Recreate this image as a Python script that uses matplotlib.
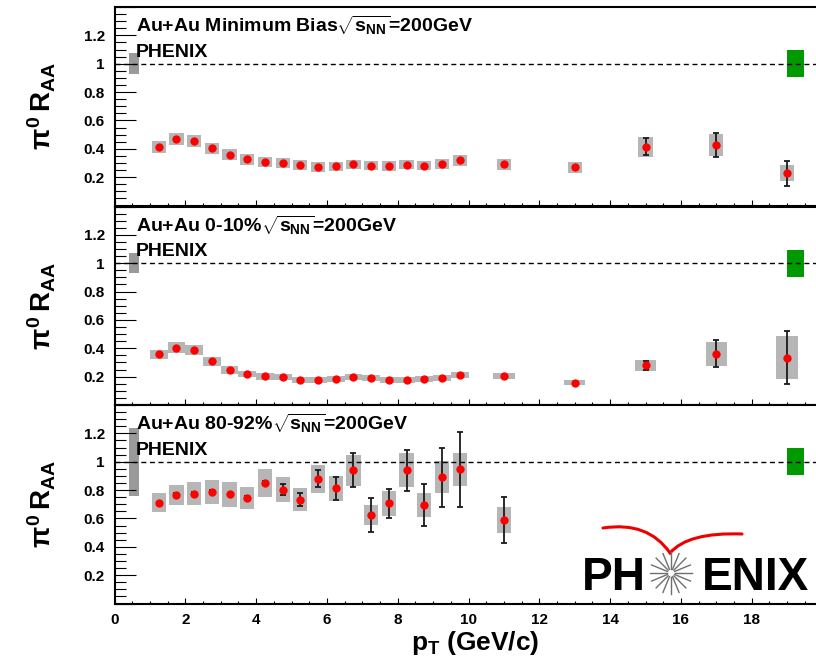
import numpy as np
import matplotlib
matplotlib.use('Agg')
from matplotlib import pyplot as plt, lines, patches
from matplotlib.path import Path
from matplotlib.ticker import MultipleLocator, FuncFormatter

plt.rcParams['font.family'] = ['Liberation Sans', 'DejaVu Sans']
plt.rcParams['font.weight'] = 'bold'
plt.rcParams['mathtext.fontset'] = 'custom'
plt.rcParams['mathtext.rm'] = 'Liberation Sans:bold'
plt.rcParams['mathtext.it'] = 'Liberation Sans:bold'
plt.rcParams['mathtext.bf'] = 'Liberation Sans:bold'

## DATA

PT = [1.25, 1.75, 2.25, 2.75, 3.25, 3.75, 4.25, 4.75, 5.25, 5.75, 6.25,
      6.75, 7.25, 7.75, 8.25, 8.75, 9.25, 9.75, 11, 13, 15, 17, 19]

# Au+Au minimum bias
raa_mb = [0.414, 0.468, 0.456, 0.403, 0.358, 0.325, 0.304, 0.297, 0.285,
          0.273, 0.276, 0.290, 0.281, 0.278, 0.288, 0.281, 0.295, 0.318,
          0.290, 0.269, 0.414, 0.426, 0.229]
stat_mb = [0.003] * 18 + [0.006, 0.008, 0.060, 0.085, 0.088]
sys_mb = [0.043, 0.040, 0.040, 0.040, 0.038, 0.036, 0.035, 0.035, 0.034,
          0.034, 0.034, 0.034, 0.034, 0.034, 0.034, 0.034, 0.035, 0.036,
          0.037, 0.037, 0.070, 0.080, 0.055]

# Au+Au 0-10%
raa_c = [0.357, 0.404, 0.387, 0.308, 0.246, 0.218, 0.202, 0.197, 0.176,
         0.176, 0.183, 0.199, 0.188, 0.179, 0.176, 0.181, 0.192, 0.211,
         0.204, 0.157, 0.279, 0.362, 0.333]
stat_c = [0.003] * 18 + [0.005, 0.006, 0.034, 0.094, 0.188]
sys_c = [0.030, 0.040, 0.036, 0.030, 0.026, 0.024, 0.023, 0.023, 0.022,
         0.022, 0.022, 0.023, 0.022, 0.022, 0.022, 0.022, 0.022, 0.024,
         0.022, 0.019, 0.040, 0.084, 0.152]

# Au+Au 80-92%
PT_P = PT[:19]
raa_p = [0.711, 0.768, 0.775, 0.787, 0.771, 0.745, 0.850, 0.804, 0.733,
         0.880, 0.812, 0.940, 0.626, 0.706, 0.940, 0.695, 0.890, 0.946, 0.590]
stat_p = [0.008, 0.008, 0.009, 0.010, 0.010, 0.012, 0.014, 0.038, 0.047,
          0.061, 0.082, 0.120, 0.120, 0.100, 0.146, 0.148, 0.210, 0.265, 0.163]
sys_p = [0.065, 0.070, 0.080, 0.085, 0.087, 0.080, 0.100, 0.090, 0.080,
         0.100, 0.090, 0.110, 0.070, 0.087, 0.118, 0.082, 0.112, 0.118, 0.094]

# normalisation uncertainties (Au+Au near pT=0.55, p+p near pT=19.25)
norm_aa = [0.074, 0.072, 0.24]
norm_pp = 0.095

TITLES = ['Au+Au Minimum Bias', 'Au+Au 0-10%', 'Au+Au 80-92%']

## FIGURE

SYS_COL = '#b6b6b6'
NORM_COL = '#9a9a9a'

W, H = 816, 668
fig = plt.figure(figsize=(W / 100, H / 100), dpi=100)

left = 114.5 / W
width = 708 / W
tops = [7, 206.5, 405]
ph = 198.5

panels = [
    (PT, raa_mb, stat_mb, sys_mb, [0.4] * 23),
    (PT, raa_c, stat_c, sys_c, [0.5] * 18 + [0.6] * 5),
    (PT_P, raa_p, stat_p, sys_p, [0.4] * 19),
]

for i, (pt, raa, stat, sys, bw) in enumerate(panels):
    ax = fig.add_axes([left, 1 - (tops[i] + ph) / H, width, ph / H])
    raa = np.array(raa)
    sys = np.array(sys)

    ax.bar(pt, 2 * sys, bottom=raa - sys, width=bw, color=SYS_COL,
           linewidth=0, zorder=1)
    ax.bar([0.55], [2 * norm_aa[i]], bottom=[1 - norm_aa[i]], width=0.28,
           color=NORM_COL, linewidth=0, zorder=1)
    ax.bar([19.24], [2 * norm_pp], bottom=[1 - norm_pp], width=0.48,
           color='#009a00', linewidth=0, zorder=1)
    ax.axhline(1, color='black', lw=1.0, dashes=(3.6, 2.6), zorder=2)
    ax.errorbar(pt, raa, yerr=stat, fmt='none', ecolor='#1a1a1a',
                elinewidth=1.3, capsize=2.5, capthick=1.3, zorder=3)
    ax.plot(pt, raa, 'o', color='red', ms=6, mew=0, zorder=4)

    ax.set_xlim(0, 20)
    ax.set_ylim(0, 1.4)
    ax.xaxis.set_major_locator(MultipleLocator(2))
    ax.xaxis.set_minor_locator(MultipleLocator(0.5))
    ax.yaxis.set_major_locator(MultipleLocator(0.2))
    ax.yaxis.set_minor_locator(MultipleLocator(0.05))
    ax.yaxis.set_major_formatter(FuncFormatter(
        lambda v, _: '' if v < 0.1 or v > 1.3 else '%g' % round(v, 1)))
    ax.xaxis.set_major_formatter(FuncFormatter(
        lambda v, _: '' if v > 19 else '%g' % v))
    ax.tick_params(axis='y', which='major', direction='in', length=15,
                   width=0.8, labelsize=11, pad=7)
    ax.tick_params(axis='y', which='minor', direction='in', length=8,
                   width=0.8)
    ax.tick_params(axis='x', which='major', direction='in', length=4.5,
                   width=0.8, labelsize=11, pad=7)
    ax.tick_params(axis='x', which='minor', direction='in', length=2.3,
                   width=0.8)
    if i < 2:
        ax.tick_params(axis='x', labelbottom=False)
    for s in ax.spines.values():
        s.set_linewidth(1.5)

    ax.text(0.6, 1.27, TITLES[i] + r'$\sqrt{s_{NN}}$' + '=200GeV',
            fontsize=14, va='center', ha='left')
    ax.text(0.6, 1.08, 'PHENIX', fontsize=14, va='center', ha='left')

    fig.text(42 / W, 1 - (tops[i] + ph / 2) / H, r'$\pi^{0}\,R_{AA}$',
             fontsize=20, rotation=90, ha='center', va='center')

fig.text(475 / W, 1 - 643 / H, r'$p_{T}$ (GeV/c)', fontsize=19,
         ha='center', va='center')

## LOGO


def fx(x):
    return x / W


def fy(y):
    return 1 - y / H


fig.text(fx(582), fy(590), 'PH', fontsize=33, weight='bold',
         ha='left', va='baseline')
fig.text(fx(809), fy(590), 'ENIX', fontsize=33, weight='bold',
         ha='right', va='baseline')

cx, cy = 671, 573
for a in np.linspace(0, 2 * np.pi, 16, endpoint=False):
    fig.add_artist(lines.Line2D(
        [fx(cx + 4 * np.cos(a)), fx(cx + 21 * np.cos(a))],
        [fy(cy + 4 * np.sin(a)), fy(cy + 21 * np.sin(a))],
        transform=fig.transFigure, color='#6f6f6f', lw=1.0))

verts = [(603, 528), (648, 521), (670, 553), (688, 532), (742, 534)]
swoosh = Path([(fx(x), fy(y)) for x, y in verts],
              [Path.MOVETO, Path.CURVE3, Path.CURVE3, Path.CURVE3,
               Path.CURVE3])
fig.add_artist(patches.PathPatch(swoosh, transform=fig.transFigure,
                                 fill=False, edgecolor='#ee0000', lw=2.2,
                                 capstyle='round', joinstyle='miter'))

fig.savefig('out.png', dpi=100)
